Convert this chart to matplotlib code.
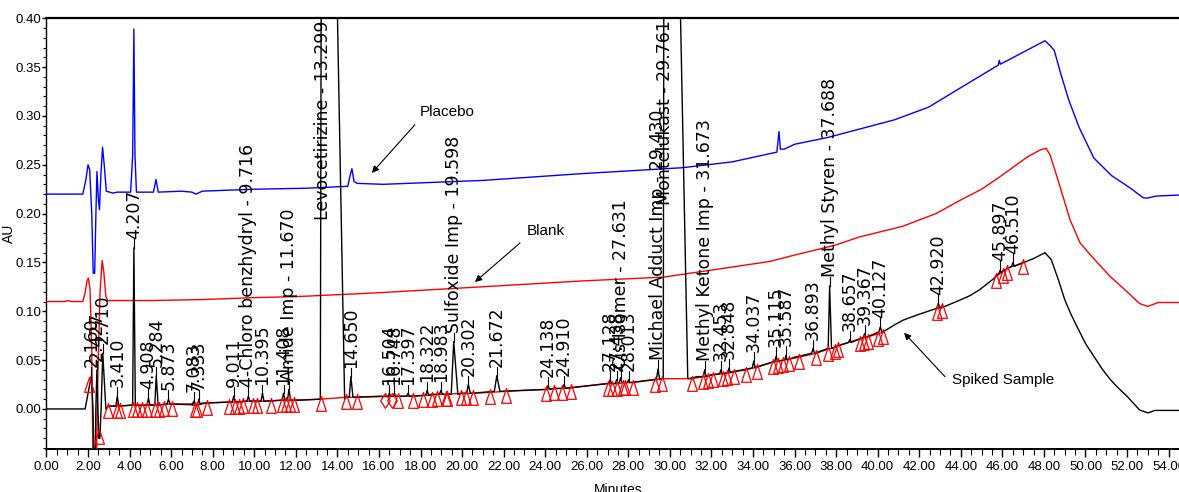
import matplotlib
matplotlib.use("Agg")
import matplotlib.pyplot as plt
from matplotlib.path import Path
from matplotlib.ticker import MultipleLocator, FormatStrFormatter

# placebo injection (blue trace), minutes / AU
placebo_t = [0.0, 1.75, 1.9, 2.0, 2.08, 2.18, 2.25, 2.32, 2.38, 2.43, 2.50, 2.55, 2.62, 2.70,
             2.78, 2.88, 3.2, 3.4, 4.05, 4.15, 4.207, 4.26, 4.33, 5.15, 5.27, 5.38, 6.5, 7.0,
             7.2, 7.5, 10.0, 12.5, 14.5, 14.6, 14.7, 14.8, 14.95, 16.2, 21.0, 25.8, 30.6, 33.0,
             35.15, 35.25, 35.32, 35.5, 36.0, 37.6, 39.2, 40.8, 42.45, 44.0, 45.8, 45.85, 45.9,
             46.8, 47.6, 48.05, 48.3, 48.5, 48.8, 49.2, 49.7, 50.4, 51.25, 52.1, 52.8, 53.0,
             53.4, 54.5]
placebo_au = [0.220, 0.220, 0.235, 0.250, 0.245, 0.200, 0.139, 0.139, 0.200, 0.243, 0.215, 0.204,
              0.240, 0.268, 0.250, 0.223, 0.221, 0.222, 0.222, 0.260, 0.389, 0.260, 0.222, 0.222,
              0.235, 0.222, 0.223, 0.222, 0.220, 0.223, 0.225, 0.226, 0.228, 0.238, 0.246, 0.233,
              0.231, 0.230, 0.234, 0.241, 0.247, 0.253, 0.263, 0.284, 0.266, 0.266, 0.271, 0.278,
              0.287, 0.296, 0.309, 0.329, 0.352, 0.357, 0.353, 0.363, 0.372, 0.377, 0.372, 0.367,
              0.344, 0.316, 0.288, 0.257, 0.239, 0.227, 0.216, 0.216, 0.218, 0.219]

# blank injection (red trace)
blank_t = [0.0, 0.9, 1.0, 1.2, 1.75, 1.85, 1.95, 2.02, 2.1, 2.18, 2.24, 2.40, 2.48, 2.58, 2.68,
           2.76, 2.86, 2.95, 5.0, 7.5, 10.0, 12.0, 16.0, 20.9, 25.7, 29.7, 32.1, 34.8, 35.9,
           38.0, 39.1, 41.2, 42.8, 44.0, 45.0, 45.9, 47.2, 47.8, 48.1, 48.3, 48.77, 49.25,
           49.74, 50.37, 51.17, 52.0, 52.6, 53.0, 53.5, 54.5]
blank_au = [0.110, 0.110, 0.111, 0.110, 0.110, 0.118, 0.131, 0.134, 0.122, 0.060, -0.060, -0.060,
            0.040, 0.120, 0.152, 0.140, 0.115, 0.111, 0.111, 0.112, 0.114, 0.115, 0.119, 0.125,
            0.131, 0.135, 0.1425, 0.151, 0.157, 0.168, 0.176, 0.187, 0.200, 0.214, 0.225, 0.238,
            0.258, 0.265, 0.267, 0.260, 0.228, 0.194, 0.170, 0.1545, 0.136, 0.120, 0.108, 0.105,
            0.109, 0.109]

# spiked sample baseline between the integrated peaks (black trace)
spiked_t = [0.0, 1.8, 2.29, 2.34, 2.52, 2.57, 3.0, 4.5, 6.0, 7.0, 7.2, 7.5, 8.7, 10.0, 12.2,
            13.1, 14.4, 16.0, 17.0, 18.5, 20.0, 22.8, 24.4, 27.0, 29.2, 29.62, 30.9, 31.3,
            32.0, 33.0, 34.2, 35.14, 36.0, 36.9, 38.0, 38.6, 39.3, 40.27, 40.8, 41.23, 42.0,
            42.84, 43.8, 44.44, 44.9, 45.56, 46.0, 46.69, 47.5, 48.05, 48.35, 48.7, 49.0, 49.3,
            49.6, 50.0, 50.4, 50.8, 51.2, 51.6, 52.0, 52.6, 53.0, 53.35, 54.5]
spiked_au = [0.000, 0.000, -0.060, -0.060, -0.030, -0.030, 0.003, 0.0035, 0.005, 0.005, 0.003,
             0.006, 0.007, 0.008, 0.009, 0.010, 0.012, 0.013, 0.013, 0.015, 0.016, 0.019, 0.021,
             0.026, 0.030, 0.031, 0.031, 0.033, 0.035, 0.038, 0.043, 0.049, 0.053, 0.057, 0.064,
             0.068, 0.073, 0.079, 0.086, 0.091, 0.097, 0.103, 0.110, 0.116, 0.122, 0.133, 0.141,
             0.147, 0.154, 0.160, 0.153, 0.132, 0.112, 0.097, 0.084, 0.067, 0.054, 0.041, 0.030,
             0.021, 0.013, -0.001, -0.004, -0.0015, -0.0015]

# integrated peaks of the spiked sample
peak_rt = [2.160, 2.427, 2.710, 3.410, 4.207, 4.908, 5.284, 5.873, 7.083, 7.333, 9.011, 9.716,
           10.395, 11.408, 11.670, 13.299, 14.650, 16.504, 16.748, 17.397, 18.322, 18.983,
           19.598, 20.302, 21.672, 24.138, 24.910, 27.128, 27.438, 27.631, 28.013, 29.430,
           29.761, 31.673, 32.453, 32.848, 34.037, 35.115, 35.587, 36.893, 37.688, 38.657,
           39.367, 40.127, 42.920, 45.897, 46.510]
peak_name = ["", "", "", "", "", "", "", "", "", "", "", "4-Chloro benzhydryl",
             "", "", "Amide Imp", "Levocetirizine", "", "", "", "", "", "",
             "Sulfoxide Imp", "", "", "", "", "", "", "Cis Isomer", "", "Michael Adduct Imp",
             "Montelukast", "Methyl Ketone Imp", "", "", "", "", "", "", "Methyl Styren", "",
             "", "", "", "", ""]
peak_top = [0.034, 0.040, 0.057, 0.013, 0.165, 0.011, 0.034, 0.010, 0.008, 0.010, 0.013, 0.013,
            0.016, 0.016, 0.020, 1.2, 0.033, 0.016, 0.016, 0.016, 0.019, 0.019,
            0.069, 0.025, 0.034, 0.024, 0.025, 0.030, 0.030, 0.032, 0.030, 0.041,
            1.2, 0.040, 0.040, 0.042, 0.049, 0.054, 0.055, 0.062, 0.126, 0.071,
            0.077, 0.084, 0.108, 0.142, 0.150]
peak_base = [0.000, 0.000, 0.000, 0.003, 0.004, 0.004, 0.004, 0.005, 0.004, 0.005, 0.007, 0.008,
             0.008, 0.009, 0.009, 0.010, 0.012, 0.013, 0.013, 0.013, 0.014, 0.015,
             0.015, 0.016, 0.018, 0.020, 0.021, 0.026, 0.026, 0.027, 0.027, 0.030,
             0.031, 0.033, 0.036, 0.037, 0.042, 0.049, 0.050, 0.057, 0.062, 0.068,
             0.073, 0.079, 0.103, 0.139, 0.146]
# peak start / end distance from the apex, minutes
peak_wl = [0.30, 0.05, 0.08, 0.07, 0.06, 0.07, 0.07, 0.07, 0.06, 0.06, 0.07, 0.07,
           0.07, 0.07, 0.07, 0.12, 0.08, 0.06, 0.06, 0.07, 0.07, 0.07,
           0.12, 0.08, 0.12, 0.08, 0.08, 0.06, 0.06, 0.06, 0.06, 0.08,
           0.08, 0.07, 0.06, 0.06, 0.07, 0.06, 0.06, 0.07, 0.07, 0.06,
           0.06, 0.07, 0.08, 0.06, 0.06]
peak_wr = [0.08, 0.05, 0.15, 0.07, 0.07, 0.07, 0.09, 0.07, 0.06, 0.06, 0.07, 0.07,
           0.07, 0.07, 0.08, 1.05, 0.10, 0.06, 0.06, 0.07, 0.07, 0.07,
           0.20, 0.10, 0.15, 0.08, 0.08, 0.06, 0.06, 0.06, 0.06, 0.08,
           1.10, 0.07, 0.06, 0.06, 0.07, 0.06, 0.06, 0.07, 0.09, 0.06,
           0.06, 0.07, 0.08, 0.06, 0.06]

# peak start/end marks from the integrator
mark_t = [2.06, 2.54, 2.98, 3.41, 3.54, 4.15, 4.34, 4.58, 4.82, 5.22, 5.43, 5.65, 6.02, 7.15,
          7.23, 7.71, 8.80, 9.07, 9.28, 9.47, 9.92, 10.15, 10.79, 11.32, 11.53, 11.72, 11.91,
          13.19, 14.41, 14.93, 16.92, 17.65, 18.13, 18.54, 18.81, 19.22, 19.28, 19.93, 20.17,
          20.51, 21.34, 22.11, 24.02, 24.42, 24.79, 25.24, 27.00, 27.23, 27.47, 27.76, 27.84,
          28.21, 29.30, 29.62, 31.05, 31.58, 31.85, 32.09, 32.57, 32.76, 33.09, 33.65, 34.21,
          34.98, 35.22, 35.43, 35.75, 36.23, 37.03, 37.59, 37.94, 38.11, 39.15, 39.34, 39.55,
          40.03, 40.27, 42.84, 43.08, 45.71, 46.05, 46.24, 47.01]
mark_au = [0.030, -0.024, 0.003, 0.003, 0.003, 0.004, 0.004, 0.004, 0.004, 0.004, 0.004, 0.005,
           0.005, 0.004, 0.004, 0.006, 0.007, 0.007, 0.007, 0.008, 0.008, 0.008, 0.008, 0.009,
           0.009, 0.009, 0.009, 0.010, 0.012, 0.012, 0.013, 0.013, 0.014, 0.014, 0.015, 0.015,
           0.015, 0.016, 0.016, 0.016, 0.017, 0.018, 0.020, 0.021, 0.021, 0.022, 0.026, 0.026,
           0.026, 0.027, 0.027, 0.027, 0.030, 0.031, 0.031, 0.033, 0.034, 0.035, 0.036, 0.037,
           0.038, 0.040, 0.043, 0.048, 0.049, 0.050, 0.051, 0.053, 0.057, 0.061, 0.063, 0.065,
           0.072, 0.073, 0.074, 0.077, 0.079, 0.103, 0.105, 0.136, 0.141, 0.144, 0.150]
diamond_t = [16.31, 16.65]
diamond_au = [0.013, 0.013]

NARROW = ["Liberation Sans Narrow", "Liberation Sans", "DejaVu Sans"]
BLUE = "#0000ff"
RED = "#ff0000"

fig = plt.figure(figsize=(11.79, 4.92), dpi=100)
ax = fig.add_axes([0.0394, 0.0874, 0.9606, 0.8754])

ax.plot(placebo_t, placebo_au, color=BLUE, lw=1.0, zorder=3)
ax.plot(blank_t, blank_au, color=RED, lw=1.0, zorder=3)

# spiked trace: baseline points outside peak windows plus start/apex/end of each peak
pts = []
for t, a in zip(spiked_t, spiked_au):
    inside = any(rt - wl <= t <= rt + wr for rt, wl, wr in zip(peak_rt, peak_wl, peak_wr))
    if not inside:
        pts.append((t, a))
for rt, top, base, wl, wr in zip(peak_rt, peak_top, peak_base, peak_wl, peak_wr):
    pts += [(rt - wl, base), (rt, top), (rt + wr, base)]
pts.sort()
ax.plot([p[0] for p in pts], [p[1] for p in pts], color="black", lw=1.0, zorder=4)

# integration baseline, broken where marks are far apart
seg_t, seg_au = [mark_t[2]], [mark_au[2]]
for t, a in zip(mark_t[3:], mark_au[3:]):
    if t - seg_t[-1] > 2.0:
        ax.plot(seg_t, seg_au, color=RED, lw=1.0, zorder=2)
        seg_t, seg_au = [], []
    seg_t.append(t)
    seg_au.append(a)
ax.plot(seg_t, seg_au, color=RED, lw=1.0, zorder=2)

tri = Path([(0, 0.2), (-0.33, -0.8), (0.33, -0.8), (0, 0.2)],
           [Path.MOVETO, Path.LINETO, Path.LINETO, Path.CLOSEPOLY])
dia = Path([(0, 0.2), (-0.33, -0.3), (0, -0.8), (0.33, -0.3), (0, 0.2)],
           [Path.MOVETO, Path.LINETO, Path.LINETO, Path.LINETO, Path.CLOSEPOLY])
ax.plot(mark_t, mark_au, ls="none", marker=tri, markersize=17, markerfacecolor="none",
        markeredgecolor=RED, markeredgewidth=0.9, zorder=5)
ax.plot(diamond_t, diamond_au, ls="none", marker=dia, markersize=17, markerfacecolor="none",
        markeredgecolor=RED, markeredgewidth=0.9, zorder=5)

# peak labels
for rt, name, top in zip(peak_rt, peak_name, peak_top):
    label = f"{name} - {rt:.3f}" if name else f"{rt:.3f}"
    if top > 0.40:
        ax.text(rt, 0.398, label, rotation=90, ha="center", va="top",
                fontsize=12.5, family="DejaVu Sans", zorder=6)
    else:
        ax.plot([rt, rt], [top, top + 0.009], color="black", lw=0.8, zorder=6)
        ax.text(rt, top + 0.009, label, rotation=90, ha="center", va="bottom",
                fontsize=12.5, family="DejaVu Sans", zorder=6)

# trace captions with arrows
arrow = dict(arrowstyle="-|>", color="black", lw=0.8, mutation_scale=10, shrinkA=0, shrinkB=0)
ax.annotate("", xy=(15.66, 0.2417), xytext=(17.73, 0.291), arrowprops=arrow)
ax.text(17.97, 0.3036, "Placebo", ha="left", va="center", fontsize=11, family=NARROW)
ax.annotate("", xy=(20.62, 0.130), xytext=(22.79, 0.170), arrowprops=arrow)
ax.text(23.12, 0.182, "Blank", ha="left", va="center", fontsize=11, family=NARROW)
ax.annotate("", xy=(41.27, 0.078), xytext=(43.24, 0.033), arrowprops=arrow)
ax.text(43.57, 0.030, "Spiked Sample", ha="left", va="center", fontsize=11, family=NARROW)

ax.set_xlim(0, 54.5)
ax.set_ylim(-0.041, 0.40)
ax.xaxis.set_major_locator(MultipleLocator(2))
ax.xaxis.set_minor_locator(MultipleLocator(0.5))
ax.xaxis.set_major_formatter(FormatStrFormatter("%.2f"))
ax.yaxis.set_major_locator(MultipleLocator(0.05))
ax.yaxis.set_minor_locator(MultipleLocator(0.01))
ax.yaxis.set_major_formatter(FormatStrFormatter("%.2f"))
ax.set_yticks([0.0, 0.05, 0.10, 0.15, 0.20, 0.25, 0.30, 0.35, 0.40])

ax.tick_params(axis="x", which="major", direction="out", length=6, width=1, pad=3)
ax.tick_params(axis="x", which="minor", direction="out", length=4, width=0.8)
ax.tick_params(axis="y", which="major", direction="out", length=3, width=1, pad=1)
ax.tick_params(axis="y", which="minor", direction="out", length=2, width=0.8)
for lab in ax.get_xticklabels() + ax.get_yticklabels():
    lab.set_family(NARROW)
    lab.set_fontsize(9.5)

ax.set_xlabel("Minutes", family=NARROW, fontsize=10)
ax.xaxis.set_label_coords(0.505, -0.079)
ax.set_ylabel("AU", family=NARROW, fontsize=10)
ax.yaxis.set_label_coords(-0.027, 0.5)

ax.spines["right"].set_visible(False)
ax.spines["top"].set_linewidth(1.6)
ax.spines["bottom"].set_linewidth(1.4)
ax.spines["left"].set_linewidth(1.0)

fig.savefig("out.png", dpi=100)
